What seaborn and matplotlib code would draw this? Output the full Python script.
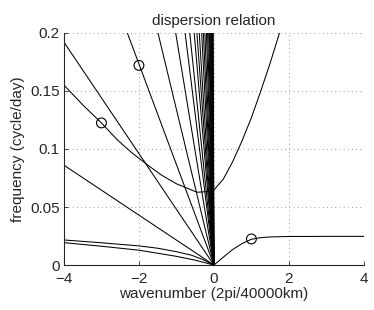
import matplotlib
matplotlib.use("Agg")
import matplotlib.pyplot as plt
import seaborn as sns
import numpy as np
import pandas as pd

# slopes (cycle/day per wavenumber) of the straight lines through the origin
line_slopes = [0.0215, 0.048, 0.0866, 0.134, 0.196, 0.26, 0.31, 0.38, 0.44,
               0.51, 0.61, 0.71, 0.83, 1.0, 1.18, 1.43, 1.67, 2.0, 2.5, 3.1,
               4.0, 5.0, 6.7, 10.0]

# inertia-gravity branch
ig_k = [-4.0, -3.5, -3.0, -2.58, -2.2, -1.77, -1.4, -1.0, -0.7, -0.45, -0.2,
        0.0, 0.25, 0.5, 0.75, 1.0, 1.24, 1.5, 1.75]
ig_f = [0.155, 0.138, 0.1224, 0.108, 0.097, 0.0862, 0.0775, 0.070, 0.066,
        0.0627, 0.0632, 0.0647, 0.074, 0.089, 0.107, 0.127, 0.149, 0.174, 0.2]

# mixed Rossby-gravity branch
mrg_k = [0.0, 0.25, 0.5, 0.75, 1.0, 1.25, 1.5, 2.0, 3.0, 4.0]
mrg_f = [0.0, 0.0068, 0.0134, 0.0185, 0.0222, 0.0236, 0.0242, 0.0246, 0.0247, 0.0247]

# Rossby branches
r1_k = [-4.0, -3.0, -2.0, -1.5, -1.0, -0.6, -0.3, 0.0]
r1_f = [0.0216, 0.0192, 0.0165, 0.0145, 0.0115, 0.0085, 0.0048, 0.0]
r2_k = [-4.0, -3.0, -2.0, -1.0, -0.5, 0.0]
r2_f = [0.0193, 0.0162, 0.0128, 0.0075, 0.0042, 0.0]

# observed points
obs_k = [-3.0, -2.0, 1.0]
obs_f = [0.1224, 0.172, 0.0225]

sns.set_style("ticks")
plt.rcParams["font.family"] = ["Liberation Sans", "DejaVu Sans"]
plt.rcParams["font.size"] = 11

fig = plt.figure(figsize=(3.74, 3.10), dpi=100)
ax = fig.add_axes([0.171, 0.145, 0.802, 0.749])

rows = []
for i, s in enumerate(line_slopes):
    for k in (-4.0, 0.0):
        rows.append({"line": i, "k": k, "f": -s * k})
lines = pd.DataFrame(rows)
sns.lineplot(data=lines, x="k", y="f", units="line", estimator=None,
             color="k", lw=0.75, ax=ax)

for kk, ff in [(ig_k, ig_f), (mrg_k, mrg_f), (r1_k, r1_f), (r2_k, r2_f)]:
    sns.lineplot(x=kk, y=ff, color="k", lw=0.75, sort=False, ax=ax)

sns.scatterplot(x=obs_k, y=obs_f, marker="o", s=50, facecolor="none",
                edgecolor="k", linewidth=0.8, ax=ax, zorder=5)

ax.set_xlim(-4, 4)
ax.set_ylim(0, 0.2)
ax.set_xticks([-4, -2, 0, 2, 4])
ax.set_yticks([0, 0.05, 0.1, 0.15, 0.2])
ax.set_xticklabels(["\u22124", "\u22122", "0", "2", "4"])
ax.set_yticklabels(["0", "0.05", "0.1", "0.15", "0.2"])
ax.grid(True, color="0.5", linestyle=(0, (1, 4)), linewidth=0.6)
ax.tick_params(direction="in", length=3, width=0.6, labelsize=11)
ax.tick_params(axis="x", pad=5)
ax.tick_params(axis="y", pad=3)
sns.despine(ax=ax)
for sp in ("left", "bottom"):
    ax.spines[sp].set_linewidth(0.8)

ax.set_title("dispersion relation", fontsize=11, pad=6)
ax.set_xlabel("wavenumber (2pi/40000km)", fontsize=11, labelpad=1)
ax.set_ylabel("frequency (cycle/day)", fontsize=11, labelpad=4)

plt.savefig("out.png", dpi=100)
plt.close()
